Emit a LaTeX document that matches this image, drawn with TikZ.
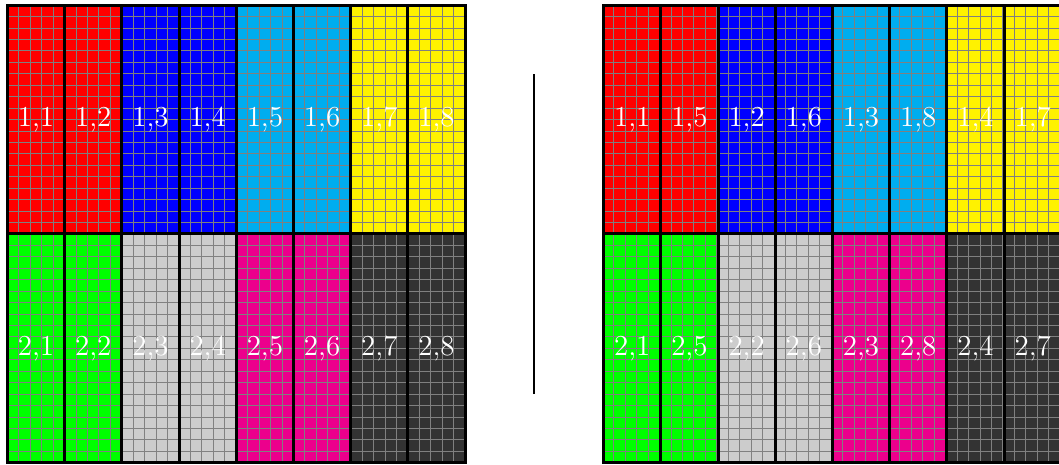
\documentclass[tikz,border=0pt]{standalone}
\usepackage{xcolor}
\usepackage{tikz}
\usetikzlibrary{positioning}

% one block: x, y, colour, node name, label
\newcommand{\blkcell}[5]{%
  \fill[#3] (#1,#2) rectangle ++(1,4);
  \draw[fine] (#1,#2) grid ++(1,4);
  \draw[blk] (#1,#2) rectangle ++(1,4);
  \node[lbl] (#4) at (#1+0.5,#2+2) {#5};
}

\begin{document}
\begin{tikzpicture}[
  blk/.style={draw=black, line width=1.5pt},
  fine/.style={draw=gray, step=0.2, line width=0.5pt},
  lbl/.style={text=white, font=\Large, inner sep=0pt},
  sep/.style={draw=black, line width=1pt}
]
\useasboundingbox (-0.13,-0.03) rectangle (18.38,8.09);

% Left layout: natural order
\foreach \c [count=\j] in {red,red,blue,blue,cyan,cyan,yellow,yellow}
  \blkcell{\j-1}{4}{\c}{L1\j}{1,\j};
\foreach \c [count=\j] in {green,green,black!20,black!20,magenta,magenta,black!80,black!80}
  \blkcell{\j-1}{0}{\c}{L2\j}{2,\j};

% Separator
\coordinate (sepTop) at (9.2,6.8);
\coordinate (sepBot) at (9.2,1.2);
\draw[sep] (sepBot) -- (sepTop);

% Right layout: permuted order
\foreach \c/\k [count=\j] in {red/1,red/5,blue/2,blue/6,cyan/3,cyan/8,yellow/4,yellow/7}
  \blkcell{\j+9.42}{4}{\c}{R1\j}{1,\k};
\foreach \c/\k [count=\j] in {green/1,green/5,black!20/2,black!20/6,magenta/3,magenta/8,black!80/4,black!80/7}
  \blkcell{\j+9.42}{0}{\c}{R2\j}{2,\k};
\end{tikzpicture}
\end{document}
